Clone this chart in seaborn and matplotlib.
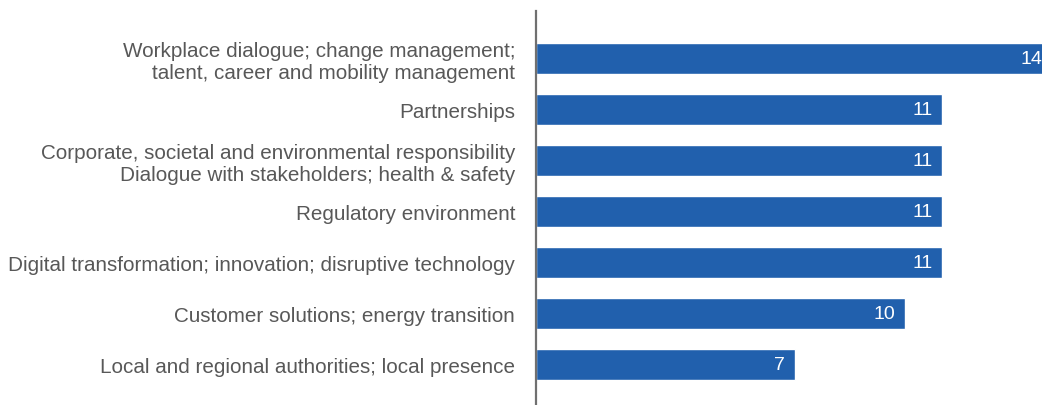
import matplotlib
matplotlib.use("Agg")
import matplotlib.pyplot as plt
import seaborn as sns
import pandas as pd

# Data
topics = [
    "Workplace dialogue; change management;\ntalent, career and mobility management",
    "Partnerships",
    "Corporate, societal and environmental responsibility\nDialogue with stakeholders; health & safety",
    "Regulatory environment",
    "Digital transformation; innovation; disruptive technology",
    "Customer solutions; energy transition",
    "Local and regional authorities; local presence",
]
counts = [14, 11, 11, 11, 11, 10, 7]

bar_color = "#2160ad"
label_color = "#585858"

sns.set_theme(style="white")
plt.rcParams["font.family"] = ["Liberation Sans", "DejaVu Sans"]

df = pd.DataFrame({"topic": topics, "count": counts})

fig = plt.figure(figsize=(10.42, 4.06), dpi=100)
ax = fig.add_axes([536 / 1042, 0.0, 1 - 536 / 1042, 1 - 12 / 406])

sns.barplot(data=df, x="count", y="topic", orient="h", color=bar_color,
            width=0.61, saturation=1, ax=ax)

ax.set_xlim(0, 13.7)
ax.set_ylim(6.8, -0.93)

# Value labels inside bar ends
for i, v in enumerate(counts):
    ax.text(min(v, 13.97) - 0.27, i, str(v), ha="right", va="center",
            color="white", fontsize=14, clip_on=False)

ax.set_xlabel("")
ax.set_ylabel("")
ax.set_xticks([])
ax.tick_params(axis="y", length=0, pad=15, labelsize=14.9, labelcolor=label_color)
for lbl in ax.get_yticklabels():
    lbl.set_horizontalalignment("right")
    lbl.set_linespacing(1.15)

for name, spine in ax.spines.items():
    if name == "left":
        spine.set_visible(True)
        spine.set_color("#707070")
        spine.set_linewidth(1.6)
    else:
        spine.set_visible(False)

fig.savefig("out.png", dpi=100)
